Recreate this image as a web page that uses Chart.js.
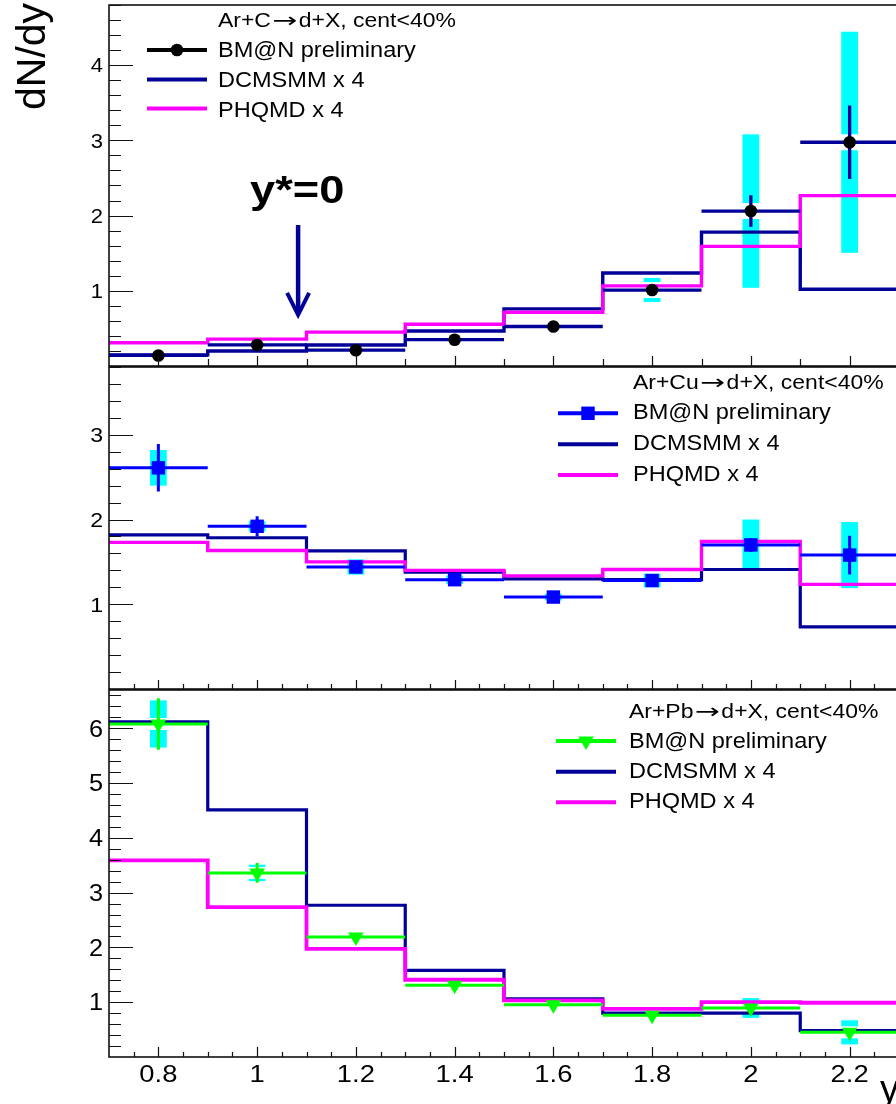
<!DOCTYPE html>
<html>
<head>
<meta charset="utf-8">
<title>Deuteron rapidity spectra, Ar+A</title>
<script src="https://cdn.jsdelivr.net/npm/chart.js@4.4.1/dist/chart.umd.min.js"></script>
<style>
  html, body { margin: 0; padding: 0; background: #ffffff; }
  #page { position: relative; width: 896px; height: 1104px; overflow: hidden; background: #ffffff; }
  #page canvas { position: absolute; left: 0; }
</style>
</head>
<body>
<div id="page">
  <canvas id="panelC" width="912" height="367" style="top:0px;width:912px;height:367px"></canvas>
  <canvas id="panelCu" width="912" height="324" style="top:366px;width:912px;height:324px"></canvas>
  <canvas id="panelPb" width="912" height="415" style="top:689px;width:912px;height:415px"></canvas>
</div>
<script>
// ---- binning (rapidity y) ----
const binEdges = [0.7, 0.9, 1.1, 1.3, 1.5, 1.7, 1.9, 2.1, 2.3];
const rapidity = [0.8, 1.0, 1.2, 1.4, 1.6, 1.8, 2.0, 2.2];

// ---- Ar+C -> d+X ----
const bmnC     = [0.14, 0.28, 0.21, 0.35, 0.525, 1.01, 2.06, 2.975];
const bmnCStat = [0.02, 0.03, 0.03, 0.04, 0.05, 0.06, 0.21, 0.49];
const bmnCSys  = [0.03, 0.05, 0.04, 0.05, 0.05, 0.16, 1.02, 1.47];
const dcmC     = [0.148, 0.20, 0.28, 0.466, 0.76, 1.236, 1.78, 1.02];
const phqC     = [0.31, 0.357, 0.45, 0.556, 0.715, 1.066, 1.59, 2.265];

// ---- Ar+Cu -> d+X ----
const bmnCu     = [2.61, 1.92, 1.44, 1.29, 1.085, 1.28, 1.70, 1.58];
const bmnCuStat = [0.28, 0.12, 0.04, 0.04, 0.03, 0.04, 0.08, 0.23];
const bmnCuSys  = [0.21, 0.06, 0.09, 0.05, 0.04, 0.08, 0.30, 0.39];
const dcmCu     = [1.82, 1.785, 1.63, 1.38, 1.30, 1.29, 1.41, 0.733];
const phqCu     = [1.73, 1.635, 1.50, 1.40, 1.335, 1.41, 1.74, 1.235];

// ---- Ar+Pb -> d+X ----
const bmnPb     = [6.08, 3.36, 2.19, 1.31, 0.956, 0.76, 0.895, 0.45];
const bmnPbStat = [0.47, 0.18, 0.05, 0.04, 0.03, 0.03, 0.06, 0.08];
const bmnPbSys  = [0.43, 0.15, 0.06, 0.05, 0.05, 0.05, 0.18, 0.22];
const dcmPb     = [6.12, 4.51, 2.77, 1.58, 1.06, 0.80, 0.80, 0.48];
const phqPb     = [3.59, 2.735, 1.975, 1.41, 1.035, 0.88, 1.00, 0.99];

// ---- axis tick labels and texts ----
const xTickValues = [0.8, 1.0, 1.2, 1.4, 1.6, 1.8, 2.0, 2.2];
const xTickLabels = ['0.8', '1', '1.2', '1.4', '1.6', '1.8', '2', '2.2'];
const yTicksC  = [1, 2, 3, 4];
const yTicksCu = [1, 2, 3];
const yTicksPb = [1, 2, 3, 4, 5, 6];
const legendHeaders = ['Ar+C\u2192d+X, cent<40%', 'Ar+Cu\u2192d+X, cent<40%', 'Ar+Pb\u2192d+X, cent<40%'];
const seriesNames = ['BM@N preliminary', 'DCMSMM x 4', 'PHQMD x 4'];

// ---- styling ----
const FONT = "'Liberation Sans', Arial, Helvetica, sans-serif";
const ARROW_FONT = "'DejaVu Sans', sans-serif";
const NAVY = '#000099', MAGENTA = '#ff00ff', CYAN = '#00ffff', BLUE = '#0000ff', GREEN = '#00ff00';
const SYS_HALF = 0.017;   // half width of systematic boxes, in rapidity units

function histPoints(vals) {
  const pts = vals.map((v, i) => ({ x: binEdges[i], y: v }));
  pts.push({ x: binEdges[binEdges.length - 1], y: vals[vals.length - 1] });
  return pts;
}

// text with a horizontal stretch factor; returns drawn width
function sText(ctx, str, x, y, size, sx, align, weight, family) {
  ctx.save();
  ctx.font = (weight ? weight + ' ' : '') + size + 'px ' + (family || FONT);
  ctx.textAlign = align || 'left';
  ctx.textBaseline = 'alphabetic';
  ctx.fillStyle = '#000000';
  const w = ctx.measureText(str).width * sx;
  ctx.translate(x, y);
  ctx.scale(sx, 1);
  ctx.fillText(str, 0, 0);
  ctx.restore();
  return w;
}

// legend header: the reaction arrow is set in a font with a proper arrow glyph, drawn longer
function headerText(ctx, str, x, y, size, sx) {
  const parts = str.split('\u2192');
  let cx = x;
  cx += sText(ctx, parts[0], cx, y, size, sx, 'left');
  cx += 1.5;
  cx += sText(ctx, '\u2192', cx, y, size, 1.45, 'left', null, ARROW_FONT);
  cx += 1.5;
  sText(ctx, parts[1], cx, y, size, sx, 'left');
}

function marker(ctx, cfg, x, y) {
  const opts = { pointStyle: cfg.marker, rotation: cfg.markerRotation, radius: cfg.markerRadius, borderWidth: 0 };
  ctx.save();
  ctx.fillStyle = cfg.markerColor;
  ctx.strokeStyle = cfg.markerColor;
  Chart.helpers.drawPoint(ctx, opts, x, y);
  ctx.restore();
}

function clipTo(ctx, a) {
  ctx.beginPath();
  ctx.rect(a.left, a.top, a.right - a.left, a.bottom - a.top);
  ctx.clip();
}

function panelPlugin(cfg) {
  return {
    id: 'rootPanel',
    // systematic uncertainty boxes, underneath everything
    beforeDatasetsDraw(chart) {
      const { ctx, chartArea: a, scales: { x: xs, y: ys } } = chart;
      ctx.save();
      clipTo(ctx, a);
      ctx.fillStyle = CYAN;
      rapidity.forEach((xv, i) => {
        const v = cfg.values[i], s = cfg.sys[i];
        const x0 = xs.getPixelForValue(xv - SYS_HALF), x1 = xs.getPixelForValue(xv + SYS_HALF);
        const yTop = ys.getPixelForValue(v + s), yBot = ys.getPixelForValue(v - s), yc = ys.getPixelForValue(v);
        const g = cfg.sysGap;
        if (yc - g > yTop) ctx.fillRect(x0, yTop, x1 - x0, yc - g - yTop);
        if (yBot > yc + g) ctx.fillRect(x0, yc + g, x1 - x0, yBot - yc - g);
      });
      ctx.restore();
    },
    // statistical error bars, just before the markers
    beforeDatasetDraw(chart, args) {
      if (args.index !== 0) return;
      const { ctx, chartArea: a, scales: { x: xs, y: ys } } = chart;
      ctx.save();
      clipTo(ctx, a);
      ctx.strokeStyle = cfg.errColor;
      ctx.lineWidth = cfg.errWidth;
      ctx.lineCap = 'butt';
      ctx.beginPath();
      rapidity.forEach((xv, i) => {
        const v = cfg.values[i], e = cfg.stat[i];
        const py = ys.getPixelForValue(v);
        ctx.moveTo(xs.getPixelForValue(binEdges[i]), py);
        ctx.lineTo(xs.getPixelForValue(binEdges[i + 1]), py);
        const px = xs.getPixelForValue(xv);
        ctx.moveTo(px, ys.getPixelForValue(v + e));
        ctx.lineTo(px, ys.getPixelForValue(v - e));
      });
      ctx.stroke();
      ctx.restore();
    },
    afterDraw(chart) {
      const { ctx, chartArea: a, scales: { x: xs, y: ys } } = chart;
      const off = cfg.top;
      ctx.save();
      // frame
      ctx.strokeStyle = '#000000';
      ctx.lineWidth = 1.5;
      ctx.strokeRect(a.left, a.top, a.right - a.left, a.bottom - a.top);
      // y ticks (major every 1, minor every 0.2)
      ctx.lineWidth = 1.2;
      ctx.strokeStyle = '#111111';
      ctx.beginPath();
      const nY = Math.floor(cfg.yMax / 0.2 + 1e-6);
      for (let k = 1; k <= nY; k++) {
        const py = Math.round(ys.getPixelForValue(k * 0.2)) + 0.5;
        ctx.moveTo(a.left, py);
        ctx.lineTo(a.left + (k % 5 === 0 ? 24 : 12), py);
      }
      // x ticks on the lower edge, pointing up
      const nX = Math.round(1.6 / cfg.xTickStep);
      for (let k = 1; k < nX; k++) {
        const v = 0.7 + k * cfg.xTickStep;
        const major = Math.abs(v * 5 - Math.round(v * 5)) < 1e-6;
        const px = Math.round(xs.getPixelForValue(v)) + 0.5;
        ctx.moveTo(px, a.bottom);
        ctx.lineTo(px, a.bottom - (major ? cfg.xMajorLen : cfg.xMinorLen));
      }
      ctx.stroke();
      ctx.restore();

      // y tick labels
      cfg.yTicks.forEach(t => {
        const py = ys.getPixelForValue(t);
        sText(ctx, String(t), 103, py + 0.358 * cfg.yLabelSize, cfg.yLabelSize, 1.1, 'right');
      });
      // x tick labels
      if (cfg.xLabels) {
        xTickValues.forEach((t, i) => {
          sText(ctx, xTickLabels[i], xs.getPixelForValue(t), 1082 - off, 24, 1.14, 'center');
        });
      }

      // legend
      const L = cfg.legend;
      headerText(ctx, cfg.header, L.textX, L.headerY - off, 20.5, 1.12);
      const entries = [
        { name: seriesNames[0], color: cfg.legendDataColor, width: 4, withMarker: true },
        { name: seriesNames[1], color: NAVY, width: 4 },
        { name: seriesNames[2], color: MAGENTA, width: 4 }
      ];
      entries.forEach((e, i) => {
        const ly = L.lineY[i] - off;
        ctx.save();
        ctx.strokeStyle = e.color;
        ctx.lineWidth = e.width;
        ctx.beginPath();
        ctx.moveTo(L.x1, ly);
        ctx.lineTo(L.x2, ly);
        ctx.stroke();
        ctx.restore();
        if (e.withMarker) marker(ctx, cfg, (L.x1 + L.x2) / 2, ly);
        sText(ctx, e.name, L.textX, L.textY[i] - off, 22, 1.07, 'left');
      });

      if (cfg.extra) cfg.extra(chart);
    }
  };
}

function buildPanel(cfg) {
  const datasets = [
    {
      label: seriesNames[0],
      data: rapidity.map((x, i) => ({ x: x, y: cfg.values[i] })),
      showLine: false,
      pointStyle: cfg.marker,
      pointRadius: cfg.markerRadius,
      pointRotation: cfg.markerRotation,
      pointBackgroundColor: cfg.markerColor,
      pointBorderColor: cfg.markerColor,
      pointBorderWidth: 0,
      borderColor: cfg.markerColor
    },
    {
      label: seriesNames[2],
      data: histPoints(cfg.phq),
      stepped: 'before',
      borderColor: MAGENTA,
      borderWidth: cfg.phqWidth,
      borderCapStyle: 'butt',
      borderJoinStyle: 'miter',
      pointRadius: 0,
      fill: false
    },
    {
      label: seriesNames[1],
      data: histPoints(cfg.dcm),
      stepped: 'before',
      borderColor: NAVY,
      borderWidth: cfg.dcmWidth,
      borderCapStyle: 'butt',
      borderJoinStyle: 'miter',
      pointRadius: 0,
      fill: false
    }
  ];
  return new Chart(document.getElementById(cfg.id), {
    type: 'line',
    data: { datasets: datasets },
    options: {
      responsive: false,
      animation: false,
      events: [],
      layout: { autoPadding: false, padding: cfg.padding },
      plugins: { legend: { display: false }, tooltip: { enabled: false }, title: { display: false } },
      scales: {
        x: { type: 'linear', min: 0.7, max: 2.3, display: false },
        y: { type: 'linear', min: 0, max: cfg.yMax, display: false }
      }
    },
    plugins: [panelPlugin(cfg)]
  });
}

// ---- panel 1: Ar+C ----
buildPanel({
  id: 'panelC', top: 0,
  padding: { left: 109, right: 13, top: 5, bottom: 1 }, yMax: 4.8,
  values: bmnC, stat: bmnCStat, sys: bmnCSys, dcm: dcmC, phq: phqC,
  yTicks: yTicksC, yLabelSize: 20,
  marker: 'circle', markerRadius: 6.3, markerRotation: 0, markerColor: '#000000',
  errColor: NAVY, errWidth: 3.3, legendDataColor: '#000000', sysGap: 8,
  dcmWidth: 3.4, phqWidth: 3.4,
  xTickStep: 0.1, xMajorLen: 10, xMinorLen: 7, xLabels: false,
  header: legendHeaders[0],
  legend: { x1: 147, x2: 207, textX: 218, headerY: 27, lineY: [50, 79.5, 108.5], textY: [57, 87, 116.5] },
  extra(chart) {
    const { ctx, scales: { x: xs, y: ys } } = chart;
    // axis title
    ctx.save();
    ctx.translate(45, 3);
    ctx.rotate(-Math.PI / 2);
    ctx.font = '41px ' + FONT;
    ctx.textAlign = 'right';
    ctx.textBaseline = 'alphabetic';
    ctx.fillStyle = '#000000';
    ctx.fillText('dN/dy', 0, 0);
    ctx.restore();
    // mid-rapidity marker
    sText(ctx, 'y*=0', 250, 203, 38, 1.19, 'left', 'bold');
    const ax = xs.getPixelForValue(1.083);
    const y0 = ys.getPixelForValue(1.875), y1 = ys.getPixelForValue(0.68);
    ctx.save();
    ctx.strokeStyle = NAVY;
    ctx.lineWidth = 4.5;
    ctx.lineCap = 'butt';
    ctx.lineJoin = 'miter';
    ctx.beginPath();
    ctx.moveTo(ax, y0);
    ctx.lineTo(ax, y1 - 2);
    ctx.stroke();
    ctx.lineWidth = 4;
    ctx.beginPath();
    ctx.moveTo(ax - 11, y1 - 22);
    ctx.lineTo(ax, y1);
    ctx.lineTo(ax + 11, y1 - 22);
    ctx.stroke();
    ctx.restore();
  }
});

// ---- panel 2: Ar+Cu ----
buildPanel({
  id: 'panelCu', top: 366,
  padding: { left: 109, right: 13, top: 1, bottom: 1 }, yMax: 3.8,
  values: bmnCu, stat: bmnCuStat, sys: bmnCuSys, dcm: dcmCu, phq: phqCu,
  yTicks: yTicksCu, yLabelSize: 21,
  marker: 'rect', markerRadius: 9.5, markerRotation: 0, markerColor: BLUE,
  errColor: BLUE, errWidth: 3, legendDataColor: BLUE, sysGap: 0,
  dcmWidth: 3.2, phqWidth: 3.4,
  xTickStep: 0.05, xMajorLen: 9, xMinorLen: 5, xLabels: false,
  header: legendHeaders[1],
  legend: { x1: 558, x2: 618, textX: 633, headerY: 389, lineY: [413.3, 444.3, 475], textY: [419, 450, 480.5] }
});

// ---- panel 3: Ar+Pb ----
buildPanel({
  id: 'panelPb', top: 689,
  padding: { left: 109, right: 13, top: 1, bottom: 47 }, yMax: 6.7,
  values: bmnPb, stat: bmnPbStat, sys: bmnPbSys, dcm: dcmPb, phq: phqPb,
  yTicks: yTicksPb, yLabelSize: 23,
  marker: 'triangle', markerRadius: 9, markerRotation: 180, markerColor: GREEN,
  errColor: GREEN, errWidth: 3, legendDataColor: GREEN, sysGap: 6,
  dcmWidth: 3.2, phqWidth: 3.8,
  xTickStep: 0.05, xMajorLen: 10, xMinorLen: 5, xLabels: true,
  header: legendHeaders[2],
  legend: { x1: 556, x2: 616, textX: 629, headerY: 718, lineY: [741, 771.7, 802.3], textY: [748, 778, 808] },
  extra(chart) {
    sText(chart.ctx, 'y', 880, 1102 - 689, 38, 1.0, 'left');
  }
});
</script>
</body>
</html>
